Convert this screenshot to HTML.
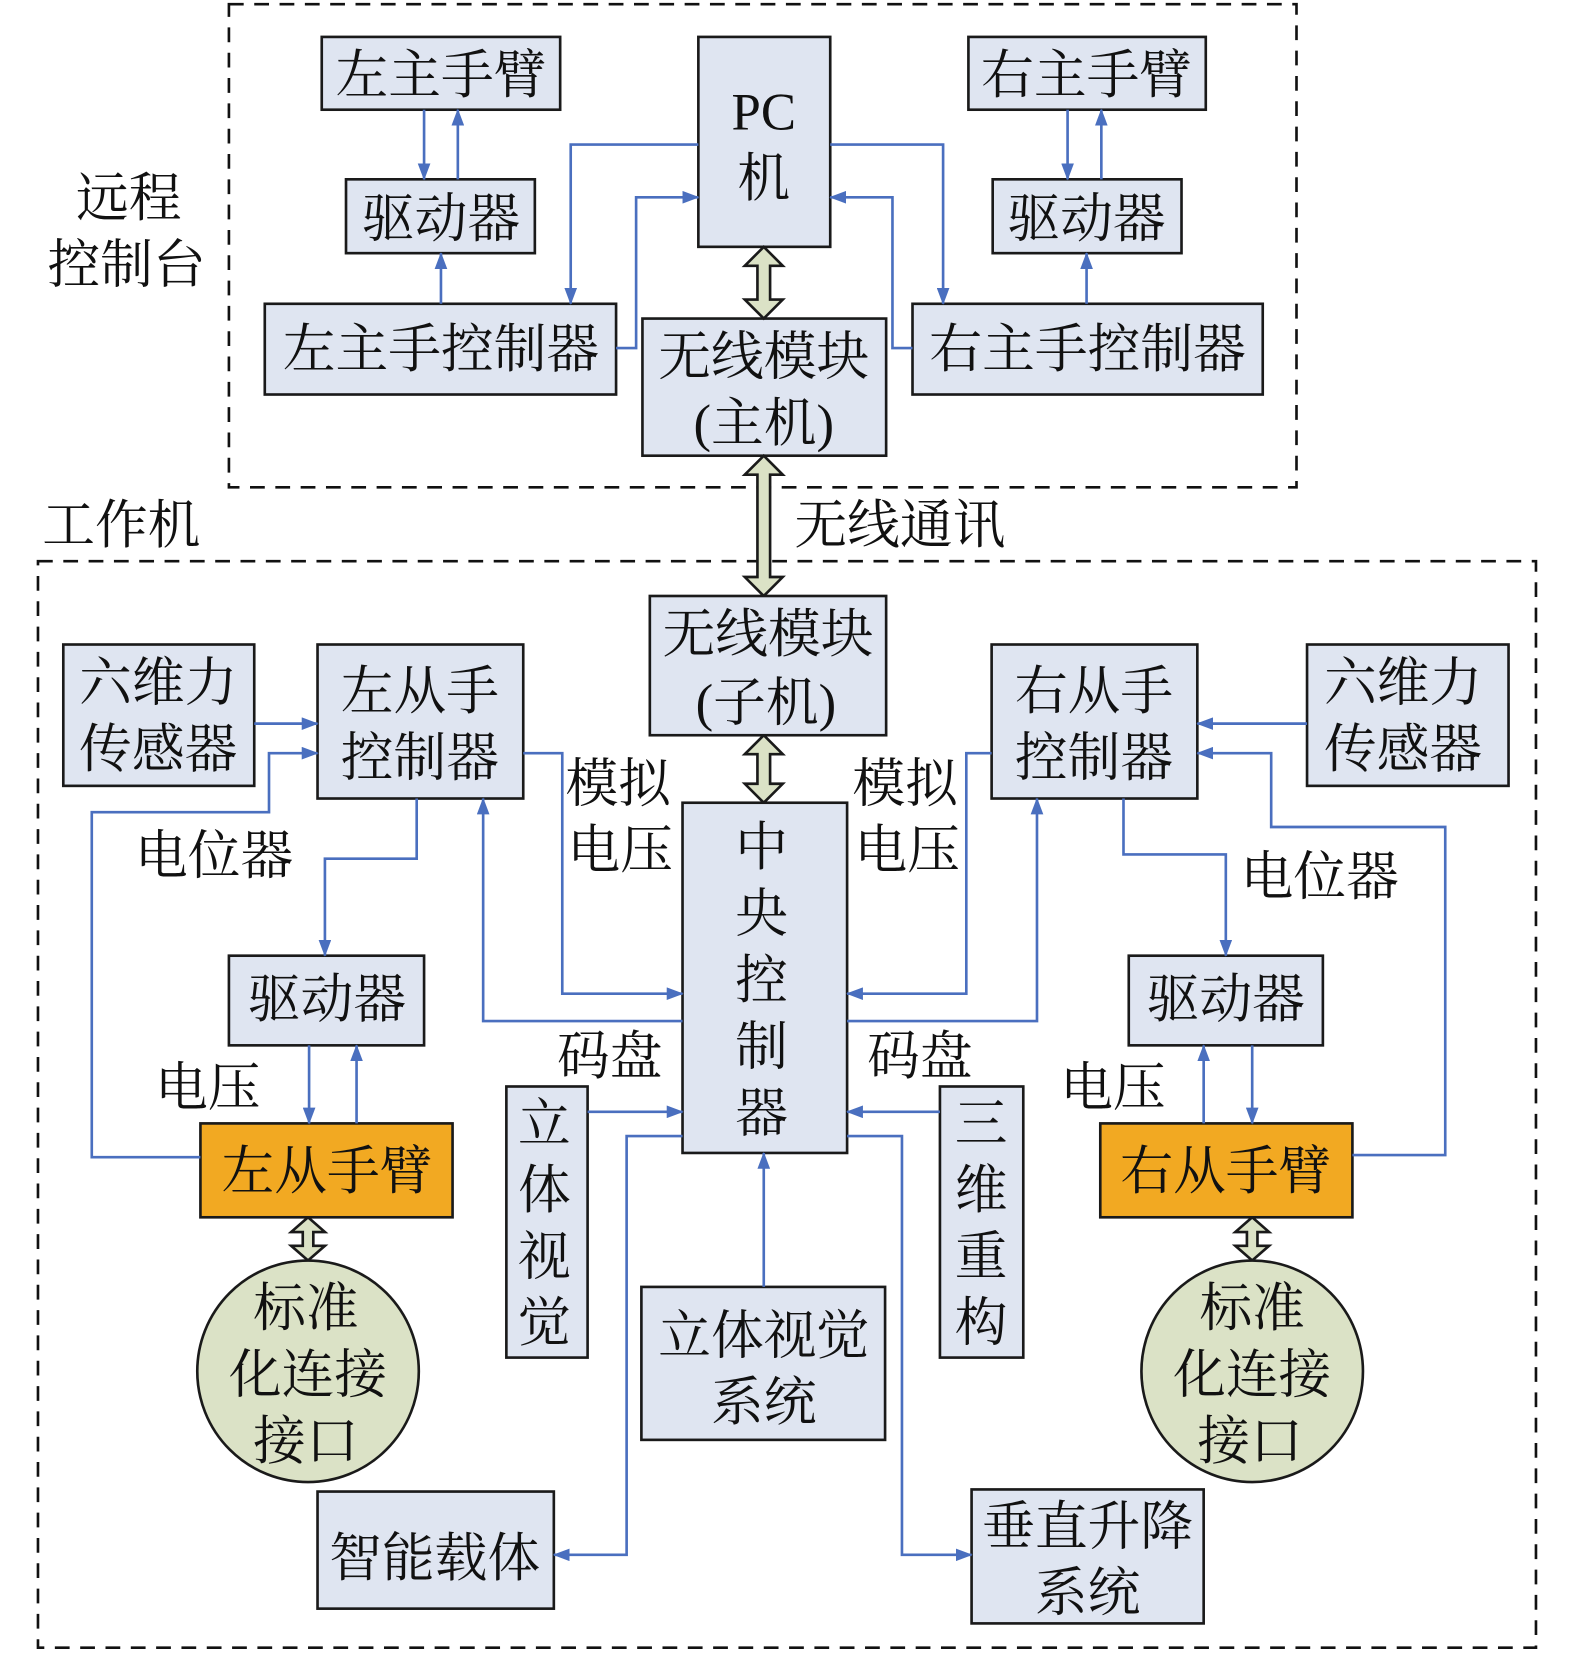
<!DOCTYPE html>
<html><head><meta charset="utf-8"><style>
html,body{margin:0;padding:0;background:#fff}
svg{display:block}
text{font-family:"Liberation Serif","Noto Serif CJK SC",serif;font-size:50px;fill:#111;text-anchor:middle}
.b{fill:#dfe5f1;stroke:#1a1a1a;stroke-width:2.5}
.o{fill:#f2a922;stroke:#1a1a1a;stroke-width:2.5}
.l{fill:none;stroke:#4a6fbf;stroke-width:2.5}
.d{fill:none;stroke:#111;stroke-width:2.5;stroke-dasharray:14 10}
.g{fill:#dbe2c6;stroke:#1a1a1a;stroke-width:2.5}
</style></head><body>
<svg width="1575" height="1654" viewBox="0 0 1493 1568" preserveAspectRatio="none" xmlns="http://www.w3.org/2000/svg">
<defs><marker id="a" markerWidth="16" markerHeight="12" refX="15" refY="6" orient="auto" markerUnits="userSpaceOnUse"><path d="M0,0 L16,6 L0,12 Z" fill="#4a6fbf"/></marker></defs>
<rect class="d" x="217" y="4" width="1012" height="458"/>
<rect class="d" x="36" y="532" width="1420" height="1030"/>
<text x="122" y="205">远程</text><text x="120" y="268">控制台</text>
<text x="115" y="515">工作机</text>
<text x="853" y="515">无线通讯</text>
<!-- top boxes -->
<rect class="b" x="305" y="35" width="226" height="69"/><text x="418" y="88">左主手臂</text>
<rect class="b" x="328" y="170" width="179" height="70"/><text x="418" y="224">驱动器</text>
<rect class="b" x="251" y="288" width="333" height="86"/><text x="418" y="348">左主手控制器</text>
<rect class="b" x="662" y="35" width="125" height="199"/><text x="724" y="123">PC</text><text x="724" y="186">机</text>
<rect class="b" x="609" y="302" width="231" height="130"/><text x="724" y="355">无线模块</text><text x="724" y="418">(主机)</text>
<rect class="b" x="918" y="35" width="225" height="69"/><text x="1030" y="88">右主手臂</text>
<rect class="b" x="941" y="170" width="179" height="70"/><text x="1030" y="224">驱动器</text>
<rect class="b" x="865" y="288" width="332" height="86"/><text x="1031" y="348">右主手控制器</text>
<!-- top lines -->
<path class="l" d="M402,104 V170" marker-end="url(#a)"/><path class="l" d="M434,170 V104" marker-end="url(#a)"/>
<path class="l" d="M418,288 V240" marker-end="url(#a)"/>
<path class="l" d="M662,137 H541 V288" marker-end="url(#a)"/>
<path class="l" d="M584,330 H603 V187 H662" marker-end="url(#a)"/>
<path class="l" d="M787,137 H894 V288" marker-end="url(#a)"/>
<path class="l" d="M865,330 H846 V187 H787" marker-end="url(#a)"/>
<path class="l" d="M1012,104 V170" marker-end="url(#a)"/><path class="l" d="M1044,170 V104" marker-end="url(#a)"/>
<path class="l" d="M1030,288 V240" marker-end="url(#a)"/>
<!-- double arrows -->
<polygon class="g" points="724,234 742,252 730,252 730,284 742,284 724,302 706,284 718,284 718,252 706,252"/>
<polygon class="g" points="724,432 742,450 730,450 730,547 742,547 724,565 706,547 718,547 718,450 706,450"/>
<polygon class="g" points="724,697 742,715 730,715 730,743 742,743 724,761 706,743 718,743 718,715 706,715"/>
<polygon class="g" points="292,1154 308,1168 297,1168 297,1181 308,1181 292,1195 276,1181 287,1181 287,1168 276,1168"/>
<polygon class="g" points="1187,1154 1203,1168 1192,1168 1192,1181 1203,1181 1187,1195 1171,1181 1182,1181 1182,1168 1171,1168"/>
<!-- bottom boxes -->
<rect class="b" x="616" y="565" width="224" height="132"/><text x="728" y="618">无线模块</text><text x="726" y="683">(子机)</text>
<rect class="b" x="60" y="611" width="181" height="134"/><text x="150" y="664">六维力</text><text x="150" y="727">传感器</text>
<rect class="b" x="301" y="611" width="195" height="146"/><text x="398" y="672">左从手</text><text x="398" y="735">控制器</text>
<rect class="b" x="940" y="611" width="195" height="146"/><text x="1037" y="672">右从手</text><text x="1037" y="735">控制器</text>
<rect class="b" x="1239" y="611" width="191" height="134"/><text x="1330" y="664">六维力</text><text x="1330" y="727">传感器</text>
<rect class="b" x="647" y="761" width="156" height="332"/>
<text x="722" y="820">中</text><text x="722" y="883">央</text><text x="722" y="946">控</text><text x="722" y="1009">制</text><text x="722" y="1072">器</text>
<rect class="b" x="217" y="906" width="185" height="85"/><text x="310" y="964">驱动器</text>
<rect class="b" x="1070" y="906" width="184" height="85"/><text x="1162" y="964">驱动器</text>
<rect class="o" x="190" y="1065" width="239" height="89"/><text x="310" y="1127">左从手臂</text>
<rect class="o" x="1043" y="1065" width="239" height="89"/><text x="1162" y="1127">右从手臂</text>
<circle class="g" cx="292" cy="1300" r="105"/><text x="290" y="1257">标准</text><text x="292" y="1320">化连接</text><text x="290" y="1383">接口</text>
<circle class="g" cx="1187" cy="1300" r="105"/><text x="1187" y="1257">标准</text><text x="1187" y="1320">化连接</text><text x="1185" y="1383">接口</text>
<rect class="b" x="480" y="1030" width="77" height="257"/><text x="516" y="1082">立</text><text x="516" y="1145">体</text><text x="516" y="1208">视</text><text x="516" y="1271">觉</text>
<rect class="b" x="891" y="1030" width="79" height="257"/><text x="930" y="1082">三</text><text x="930" y="1145">维</text><text x="930" y="1208">重</text><text x="930" y="1271">构</text>
<rect class="b" x="608" y="1220" width="231" height="145"/><text x="724" y="1283">立体视觉</text><text x="724" y="1346">系统</text>
<rect class="b" x="301" y="1414" width="224" height="111"/><text x="412" y="1494">智能载体</text>
<rect class="b" x="921" y="1412" width="220" height="127"/><text x="1031" y="1464">垂直升降</text><text x="1031" y="1527">系统</text>
<!-- labels -->
<text x="586" y="760">模拟</text><text x="588" y="823">电压</text>
<text x="858" y="760">模拟</text><text x="860" y="823">电压</text>
<text x="203" y="828">电位器</text><text x="1251" y="848">电位器</text>
<text x="578" y="1018">码盘</text><text x="872" y="1018">码盘</text>
<text x="197" y="1048">电压</text><text x="1055" y="1048">电压</text>
<!-- bottom lines -->
<path class="l" d="M241,686 H301" marker-end="url(#a)"/>
<path class="l" d="M190,1097 H87 V770 H255 V714 H301" marker-end="url(#a)"/>
<path class="l" d="M395,757 V814 H308 V906" marker-end="url(#a)"/>
<path class="l" d="M496,714 H533 V942 H647" marker-end="url(#a)"/>
<path class="l" d="M647,968 H458 V757" marker-end="url(#a)"/>
<path class="l" d="M293,991 V1065" marker-end="url(#a)"/><path class="l" d="M338,1065 V991" marker-end="url(#a)"/>
<path class="l" d="M557,1054 H647" marker-end="url(#a)"/>
<path class="l" d="M647,1077 H594 V1474 H525" marker-end="url(#a)"/>
<path class="l" d="M724,1220 V1093" marker-end="url(#a)"/>
<path class="l" d="M803,1077 H855 V1474 H921" marker-end="url(#a)"/>
<path class="l" d="M891,1054 H803" marker-end="url(#a)"/>
<path class="l" d="M940,714 H916 V942 H803" marker-end="url(#a)"/>
<path class="l" d="M803,968 H983 V757" marker-end="url(#a)"/>
<path class="l" d="M1239,686 H1135" marker-end="url(#a)"/>
<path class="l" d="M1282,1095 H1370 V784 H1205 V714 H1135" marker-end="url(#a)"/>
<path class="l" d="M1065,757 V810 H1162 V906" marker-end="url(#a)"/>
<path class="l" d="M1141,1065 V991" marker-end="url(#a)"/><path class="l" d="M1187,991 V1065" marker-end="url(#a)"/>
</svg>
</body></html>
